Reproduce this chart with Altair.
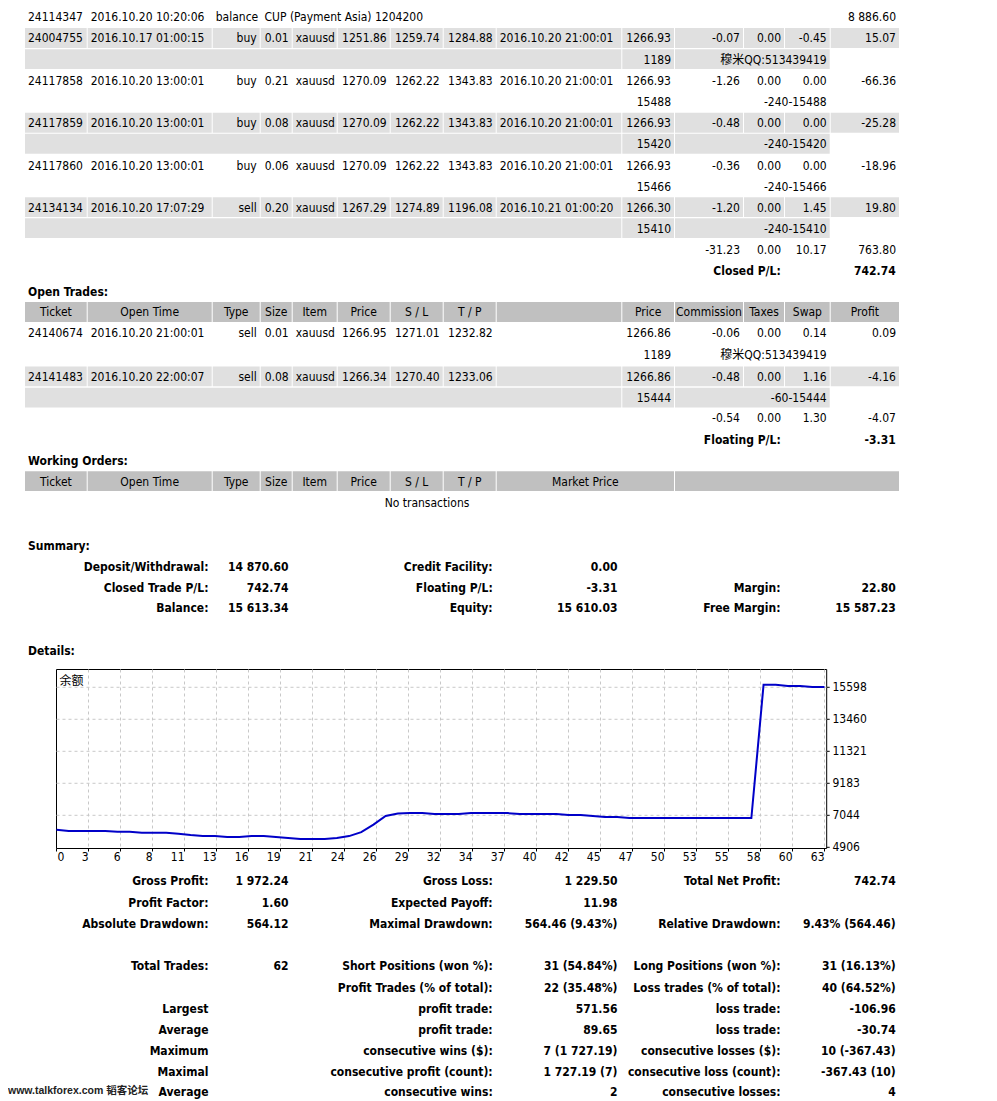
import altair as alt
import pandas as pd

# ------------------------------------------------------------------ data
balance_entry = ["24114347", "2016.10.20 10:20:06", "balance", "CUP (Payment Asia) 1204200", "8 886.60"]

closed_trades = [
    ["24004755", "2016.10.17 01:00:15", "buy", "0.01", "xauusd", "1251.86", "1259.74", "1284.88",
     "2016.10.20 21:00:01", "1266.93", "-0.07", "0.00", "-0.45", "15.07"],
    ["24117858", "2016.10.20 13:00:01", "buy", "0.21", "xauusd", "1270.09", "1262.22", "1343.83",
     "2016.10.20 21:00:01", "1266.93", "-1.26", "0.00", "0.00", "-66.36"],
    ["24117859", "2016.10.20 13:00:01", "buy", "0.08", "xauusd", "1270.09", "1262.22", "1343.83",
     "2016.10.20 21:00:01", "1266.93", "-0.48", "0.00", "0.00", "-25.28"],
    ["24117860", "2016.10.20 13:00:01", "buy", "0.06", "xauusd", "1270.09", "1262.22", "1343.83",
     "2016.10.20 21:00:01", "1266.93", "-0.36", "0.00", "0.00", "-18.96"],
    ["24134134", "2016.10.20 17:07:29", "sell", "0.20", "xauusd", "1267.29", "1274.89", "1196.08",
     "2016.10.21 01:00:20", "1266.30", "-1.20", "0.00", "1.45", "19.80"],
]
closed_notes = [["1189", "穆米QQ:513439419"], ["15488", "-240-15488"], ["15420", "-240-15420"],
                ["15466", "-240-15466"], ["15410", "-240-15410"]]
closed_shaded = [True, False, True, False, True]
closed_totals = ["-31.23", "0.00", "10.17", "763.80"]
closed_pl = ["Closed P/L:", "742.74"]

trade_headers = ["Ticket", "Open Time", "Type", "Size", "Item", "Price", "S / L", "T / P", "",
                 "Price", "Commission", "Taxes", "Swap", "Profit"]
open_trades = [
    ["24140674", "2016.10.20 21:00:01", "sell", "0.01", "xauusd", "1266.95", "1271.01", "1232.82",
     "", "1266.86", "-0.06", "0.00", "0.14", "0.09"],
    ["24141483", "2016.10.20 22:00:07", "sell", "0.08", "xauusd", "1266.34", "1270.40", "1233.06",
     "", "1266.86", "-0.48", "0.00", "1.16", "-4.16"],
]
open_notes = [["1189", "穆米QQ:513439419"], ["15444", "-60-15444"]]
open_shaded = [False, True]
open_totals = ["-0.54", "0.00", "1.30", "-4.07"]
floating_pl = ["Floating P/L:", "-3.31"]

order_headers = ["Ticket", "Open Time", "Type", "Size", "Item", "Price", "S / L", "T / P", "Market Price", ""]
no_orders = "No transactions"

section_titles = ["Open Trades:", "Working Orders:", "Summary:", "Details:"]

summary_rows = [
    ["Deposit/Withdrawal:", "14 870.60", "Credit Facility:", "0.00", "", ""],
    ["Closed Trade P/L:", "742.74", "Floating P/L:", "-3.31", "Margin:", "22.80"],
    ["Balance:", "15 613.34", "Equity:", "15 610.03", "Free Margin:", "15 587.23"],
]
stats_rows = [
    ["Gross Profit:", "1 972.24", "Gross Loss:", "1 229.50", "Total Net Profit:", "742.74"],
    ["Profit Factor:", "1.60", "Expected Payoff:", "11.98", "", ""],
    ["Absolute Drawdown:", "564.12", "Maximal Drawdown:", "564.46 (9.43%)", "Relative Drawdown:", "9.43% (564.46)"],
    ["Total Trades:", "62", "Short Positions (won %):", "31 (54.84%)", "Long Positions (won %):", "31 (16.13%)"],
    ["", "", "Profit Trades (% of total):", "22 (35.48%)", "Loss trades (% of total):", "40 (64.52%)"],
    ["Largest", "", "profit trade:", "571.56", "loss trade:", "-106.96"],
    ["Average", "", "profit trade:", "89.65", "loss trade:", "-30.74"],
    ["Maximum", "", "consecutive wins ($):", "7 (1 727.19)", "consecutive losses ($):", "10 (-367.43)"],
    ["Maximal", "", "consecutive profit (count):", "1 727.19 (7)", "consecutive loss (count):", "-367.43 (10)"],
    ["Average", "", "consecutive wins:", "2", "consecutive losses:", "4"],
]

# balance curve (trade number -> account balance)
balance = [6075, 5988, 5988, 5988, 5988, 5942, 5942, 5875, 5875, 5875,
           5808, 5721, 5654, 5654, 5587, 5587, 5654, 5654, 5587, 5521,
           5454, 5454, 5454, 5521, 5654, 5920, 6420, 7000, 7160, 7191,
           7191, 7124, 7124, 7124, 7191, 7191, 7191, 7191, 7124, 7124,
           7124, 7124, 7058, 7058, 6991, 6924, 6924, 6857, 6857, 6857,
           6857, 6857, 6857, 6857, 6857, 6857, 6857, 6857, 15765, 15765,
           15680, 15680, 15613, 15613]
x_tick_labels = ["0", "3", "6", "8", "11", "13", "16", "19", "21", "24", "26", "29", "32",
                 "34", "37", "40", "42", "45", "47", "50", "53", "55", "58", "60", "63"]
y_tick_labels = [4906, 7044, 9183, 11321, 13460, 15598]
chart_label = "余额"
watermark = "www.talkforex.com 韬客论坛"

# ------------------------------------------------------------------ layout / style
FONT = "DejaVu Sans Condensed, DejaVu Sans, Noto Sans CJK SC"
CJK = "Noto Sans CJK SC"
W, H, M = 960, 1093, 8
ROW_GREY, HEAD_GREY = "#e0e0e0", "#c0c0c0"

cells = [(25, 86.7), (87.7, 211.7), (212.7, 259.7), (260.7, 291.7), (292.7, 336.7), (337.7, 389.7),
         (390.7, 442.7), (443.7, 495.7), (496.7, 621.3), (622.3, 674), (675, 743), (744, 784),
         (785, 829.7), (830.7, 899)]
aligns = ["l", "l", "r", "r", "l", "r", "r", "r", "l", "r", "r", "r", "r", "r"]
note_spans = [(25, 621.3), (622.3, 674), (675, 829.7)]
order_spans = cells[:8] + [(496.7, 674), (675, 899)]
summary_right = [208.5, 288.5, 492.7, 617.5, 780.5, 895.7]

texts, rects = [], []


def add(x, y, t, style):
    if t != "":
        texts.append(dict(x=x, y=y, text=t, style=style))


def box(a, b, y, fill):
    rects.append(dict(x=a, x2=b, y=y - 10.3, y2=y + 9.6, fill=fill))


def trade_row(vals, y, shaded):
    for (a, b), al, v in zip(cells, aligns, vals):
        if shaded:
            box(a, b, y, ROW_GREY)
        add(a + 3 if al == "l" else b - 3, y, v, al)


def note_row(vals, y, shaded):
    if shaded:
        for a, b in note_spans:
            box(a, b, y, ROW_GREY)
    add(note_spans[1][1] - 3, y, vals[0], "r")
    add(note_spans[2][1] - 3, y, vals[1], "r")


def totals_row(vals, y):
    for (a, b), v in zip(cells[10:], vals):
        add(b - 3, y, v, "r")


def header_row(spans, labels, y):
    for (a, b), t in zip(spans, labels):
        box(a, b, y, HEAD_GREY)
        add((a + b) / 2, y, t, "c")


# closed transactions (continued)
ry = [17.2, 38.3, 59.5, 80.8, 101.8, 123.1, 144.1, 165.5, 186.5, 207.5, 228.5, 249.6, 270.7]
for x, v, st in zip([28, 90.7, 215.7, 264.5, 896], balance_entry, ["l", "l", "l", "l", "r"]):
    add(x, ry[0], v, st)
for i, (tr, nt, sh) in enumerate(zip(closed_trades, closed_notes, closed_shaded)):
    trade_row(tr, ry[1 + 2 * i], sh)
    note_row(nt, ry[2 + 2 * i], sh)
totals_row(closed_totals, ry[11])
add(780.7, ry[12], closed_pl[0], "br")
add(895.7, ry[12], closed_pl[1], "br")

# open trades
add(28, 291.7, section_titles[0], "bl")
header_row(cells, trade_headers, 312.3)
for tr, nt, sh, yt, yn in zip(open_trades, open_notes, open_shaded, [333.3, 376.7], [355, 398]):
    trade_row(tr, yt, sh)
    note_row(nt, yn, sh)
totals_row(open_totals, 418.3)
add(780.7, 439.8, floating_pl[0], "br")
add(895.7, 439.8, floating_pl[1], "br")

# working orders
add(28, 461, section_titles[1], "bl")
header_row(order_spans, order_headers, 481.5)
add(427, 502.5, no_orders, "c")

# summary
add(28, 545.7, section_titles[2], "bl")
for row, y in zip(summary_rows, [566.7, 587.7, 608.3]):
    for x, v in zip(summary_right, row):
        add(x, y, v, "br")

# details / statistics
add(28, 651.3, section_titles[3], "bl")
for row, y in zip(stats_rows, [881.3, 902.5, 923.7, 966.3, 987.7, 1008.7, 1030, 1051, 1071.7, 1092.2]):
    for x, v in zip(summary_right, row):
        add(x, y, v, "br")

add(59.5, 681, chart_label, "cjk")
add(8, 1091, watermark, "wm")

tdf = pd.DataFrame(texts)
rdf = pd.DataFrame(rects)

# page-coordinate scales for the report layout
TX = alt.Scale(domain=[M, M + W], range=[0, W], nice=False, zero=False)
TY = alt.Scale(domain=[M, M + H], range=[0, H], nice=False, zero=False)

bg = alt.Chart(rdf).mark_rect().encode(
    x=alt.X("x:Q", scale=TX, axis=None), x2="x2:Q",
    y=alt.Y("y:Q", scale=TY, axis=None), y2="y2:Q",
    color=alt.Color("fill:N", scale=None),
)

styles = {
    "l": dict(align="left", fontWeight="normal", font=FONT, fontSize=12),
    "r": dict(align="right", fontWeight="normal", font=FONT, fontSize=12),
    "c": dict(align="center", fontWeight="normal", font=FONT, fontSize=12),
    "bl": dict(align="left", fontWeight="bold", font=FONT, fontSize=12),
    "br": dict(align="right", fontWeight="bold", font=FONT, fontSize=12),
    "cjk": dict(align="left", fontWeight="normal", font=CJK, fontSize=12),
    "wm": dict(align="left", fontWeight="bold", font="Liberation Sans, Noto Sans CJK SC", fontSize=10.5),
}
text_layers = []
for key, opts in styles.items():
    sub = tdf[tdf["style"] == key]
    if len(sub) == 0:
        continue
    color = "#222222" if key == "wm" else "black"
    text_layers.append(
        alt.Chart(sub).mark_text(baseline="middle", color=color, **opts).encode(
            x=alt.X("x:Q", scale=TX, axis=None),
            y=alt.Y("y:Q", scale=TY, axis=None),
            text="text:N",
        )
    )

# ------------------------------------------------------------------ balance chart
PX0, PX1, PY0, PY1 = 56.5, 826.7, 669.5, 848.5  # plot frame (page px)
frame_df = pd.DataFrame([dict(x=PX0, x2=PX1, y=PY0, y2=PY1)])
frame = alt.Chart(frame_df).mark_rect(filled=False, color="black", strokeWidth=1).encode(
    x=alt.X("x:Q", scale=TX, axis=None), x2="x2:Q",
    y=alt.Y("y:Q", scale=TY, axis=None), y2="y2:Q",
)

BX = alt.Scale(domain=[0, 63.18], range=[PX0 - M, PX1 - M], nice=False, zero=False)
BY = alt.Scale(domain=[4826, 16787], range=[PY1 - M, PY0 - M], nice=False, zero=False)

bal_df = pd.DataFrame({"trade": list(range(len(balance))), "balance": balance})
xt_df = pd.DataFrame({"pos": [k * 63 / 24 for k in range(len(x_tick_labels))], "label": x_tick_labels})
yt_df = pd.DataFrame({"val": y_tick_labels, "label": [str(v) for v in y_tick_labels]})

grid_v = alt.Chart(xt_df.iloc[1:]).mark_rule(color="#c8c8c8", strokeDash=[3, 3], strokeWidth=1).encode(
    x=alt.X("pos:Q", scale=BX, axis=None), y=alt.value(PY0 - M), y2=alt.value(PY1 - M))
grid_h = alt.Chart(yt_df.iloc[1:]).mark_rule(color="#c8c8c8", strokeDash=[3, 3], strokeWidth=1).encode(
    y=alt.Y("val:Q", scale=BY, axis=None), x=alt.value(PX0 - M), x2=alt.value(PX1 - M))
tick_x = alt.Chart(xt_df).mark_rule(color="black").encode(
    x=alt.X("pos:Q", scale=BX, axis=None), y=alt.value(PY1 - M), y2=alt.value(PY1 - M + 3))
tick_y = alt.Chart(yt_df).mark_rule(color="black").encode(
    y=alt.Y("val:Q", scale=BY, axis=None), x=alt.value(PX1 - M), x2=alt.value(PX1 - M + 3))
lab_x0 = alt.Chart(xt_df.iloc[:1]).mark_text(align="left", baseline="middle", dx=1, font=FONT, fontSize=12, color="black").encode(
    x=alt.X("pos:Q", scale=BX, axis=None), y=alt.value(857 - M), text="label:N")
lab_x = alt.Chart(xt_df.iloc[1:]).mark_text(align="right", baseline="middle", dx=0, font=FONT, fontSize=12, color="black").encode(
    x=alt.X("pos:Q", scale=BX, axis=None), y=alt.value(857 - M), text="label:N")
lab_y = alt.Chart(yt_df).mark_text(align="left", baseline="middle", font=FONT, fontSize=12, color="black").encode(
    y=alt.Y("val:Q", scale=BY, axis=None), x=alt.value(832.5 - M), text="label:N")
line = alt.Chart(bal_df).mark_line(color="#0000c8", strokeWidth=2).encode(
    x=alt.X("trade:Q", scale=BX, axis=None),
    y=alt.Y("balance:Q", scale=BY, axis=None),
)

report = alt.layer(bg, frame, *text_layers)
balance_chart = alt.layer(grid_v, grid_h, tick_x, tick_y, lab_x0, lab_x, lab_y, line)

chart = alt.layer(report, balance_chart).resolve_scale(x="independent", y="independent").properties(
    width=W, height=H, padding=0, autosize=alt.AutoSizeParams(type="none"), background="white"
).configure_view(stroke=None)

chart.save("out.html", embed_options={"renderer": "svg", "actions": False})
